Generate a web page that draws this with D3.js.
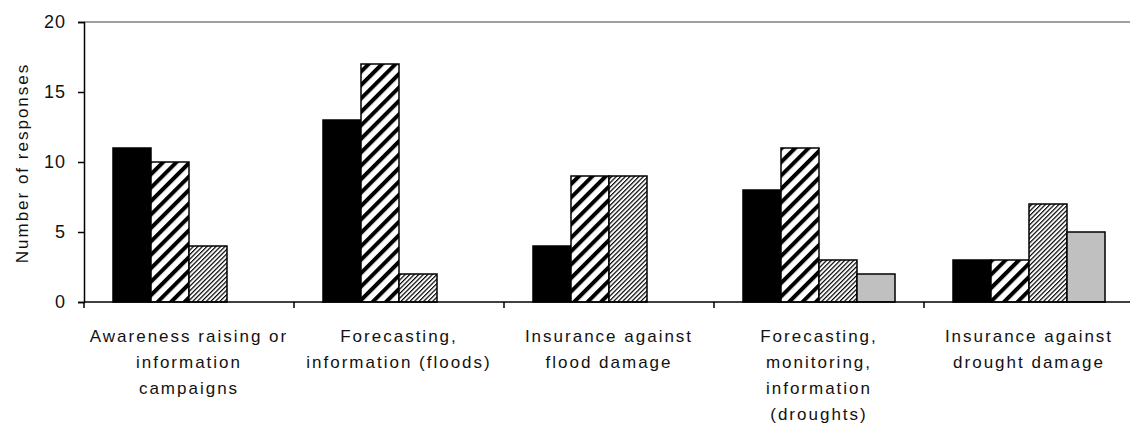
<!DOCTYPE html>
<html>
<head>
<meta charset="utf-8">
<script src="https://cdn.jsdelivr.net/npm/d3@7"></script>
<style>
  body { margin: 0; background: #fff; }
  svg text { font-family: Arial, "Liberation Sans", sans-serif; fill: #111; }
</style>
</head>
<body>
<svg id="chart" width="1130" height="426"></svg>
<script>
// category labels, already broken into lines like the original
const categories = [
  ["Awareness raising or", "information", "campaigns"],
  ["Forecasting,", "information (floods)"],
  ["Insurance against", "flood damage"],
  ["Forecasting,", "monitoring,", "information", "(droughts)"],
  ["Insurance against", "drought damage"]
];
const seriesNames = ["s1", "s2", "s3", "s4"];
const s1 = [11, 13, 4, 8, 3];
const s2 = [10, 17, 9, 11, 3];
const s3 = [4, 2, 9, 3, 7];
const s4 = [0, 0, 0, 2, 5];
const yTicks = [0, 5, 10, 15, 20];

const svg = d3.select("#chart");
const margin = {left: 84, top: 22, bottom: 302, right: 1134};

// patterns for the hatched series
const defs = svg.append("defs");
function hatch(id, size, thick) {
  const p = defs.append("pattern")
    .attr("id", id)
    .attr("patternUnits", "userSpaceOnUse")
    .attr("width", size)
    .attr("height", size)
    .attr("patternTransform", "rotate(45)");
  p.append("rect").attr("width", size).attr("height", size).attr("fill", "#fff");
  p.append("rect").attr("width", thick).attr("height", size).attr("fill", "#000");
}
hatch("bold", 9.5, 4);
hatch("thin", 3.2, 1.2);

const fills = ["#000", "url(#bold)", "url(#thin)", "#c0c0c0"];

const x = d3.scaleBand()
  .domain(d3.range(categories.length))
  .range([margin.left, margin.right]);

const xSub = d3.scaleBand()
  .domain(seriesNames)
  .range([0, x.bandwidth()])
  .paddingOuter(0.763);

const y = d3.scaleLinear()
  .domain([0, 20])
  .range([margin.bottom, margin.top]);

// top border of plot area
svg.append("line")
  .attr("x1", margin.left).attr("x2", 1130)
  .attr("y1", y(20)).attr("y2", y(20))
  .attr("stroke", "#a0a0a0")
  .attr("stroke-width", 2);

// bars
const allSeries = [s1, s2, s3, s4];
allSeries.forEach((vals, si) => {
  svg.append("g")
    .selectAll("rect")
    .data(vals.map((v, i) => ({i: i, v: v})).filter(d => d.v > 0))
    .enter()
    .append("rect")
    .attr("x", d => x(d.i) + xSub(seriesNames[si]))
    .attr("y", d => y(d.v))
    .attr("width", xSub.bandwidth())
    .attr("height", d => y(0) - y(d.v))
    .attr("fill", fills[si])
    .attr("stroke", "#000")
    .attr("stroke-width", 1.5);
});

// y axis
const yAxis = svg.append("g")
  .attr("transform", `translate(${margin.left},0)`)
  .call(d3.axisLeft(y).tickValues(yTicks).tickSize(6).tickPadding(12));
yAxis.select(".domain").attr("stroke", "#000").attr("stroke-width", 1.5);
yAxis.selectAll(".tick line").attr("stroke", "#000").attr("stroke-width", 1.5);
yAxis.selectAll(".tick text")
  .style("font-size", "18px")
  .style("letter-spacing", "1px")
  .attr("fill", "#111");

// x axis line with ticks at category boundaries
svg.append("line")
  .attr("x1", margin.left).attr("x2", 1130)
  .attr("y1", y(0)).attr("y2", y(0))
  .attr("stroke", "#000").attr("stroke-width", 1.5);

svg.append("g")
  .selectAll("line")
  .data(d3.range(categories.length))
  .enter()
  .append("line")
  .attr("x1", d => x(d)).attr("x2", d => x(d))
  .attr("y1", y(0)).attr("y2", y(0) + 6)
  .attr("stroke", "#000").attr("stroke-width", 1.5);

// category labels
const labels = svg.append("g")
  .selectAll("text")
  .data(categories)
  .enter()
  .append("text")
  .attr("text-anchor", "middle")
  .style("font-size", "17px")
  .style("letter-spacing", "2px");

labels.selectAll("tspan")
  .data((d, i) => d.map(line => ({line: line, i: i})))
  .enter()
  .append("tspan")
  .attr("x", d => x(d.i) + x.bandwidth() / 2)
  .attr("y", (d, j) => 342 + j * 26)
  .text(d => d.line);

// y axis title
svg.append("text")
  .attr("transform", "translate(28,163) rotate(-90)")
  .attr("text-anchor", "middle")
  .style("font-size", "17px")
  .style("letter-spacing", "2px")
  .text("Number of responses");
</script>
</body>
</html>
